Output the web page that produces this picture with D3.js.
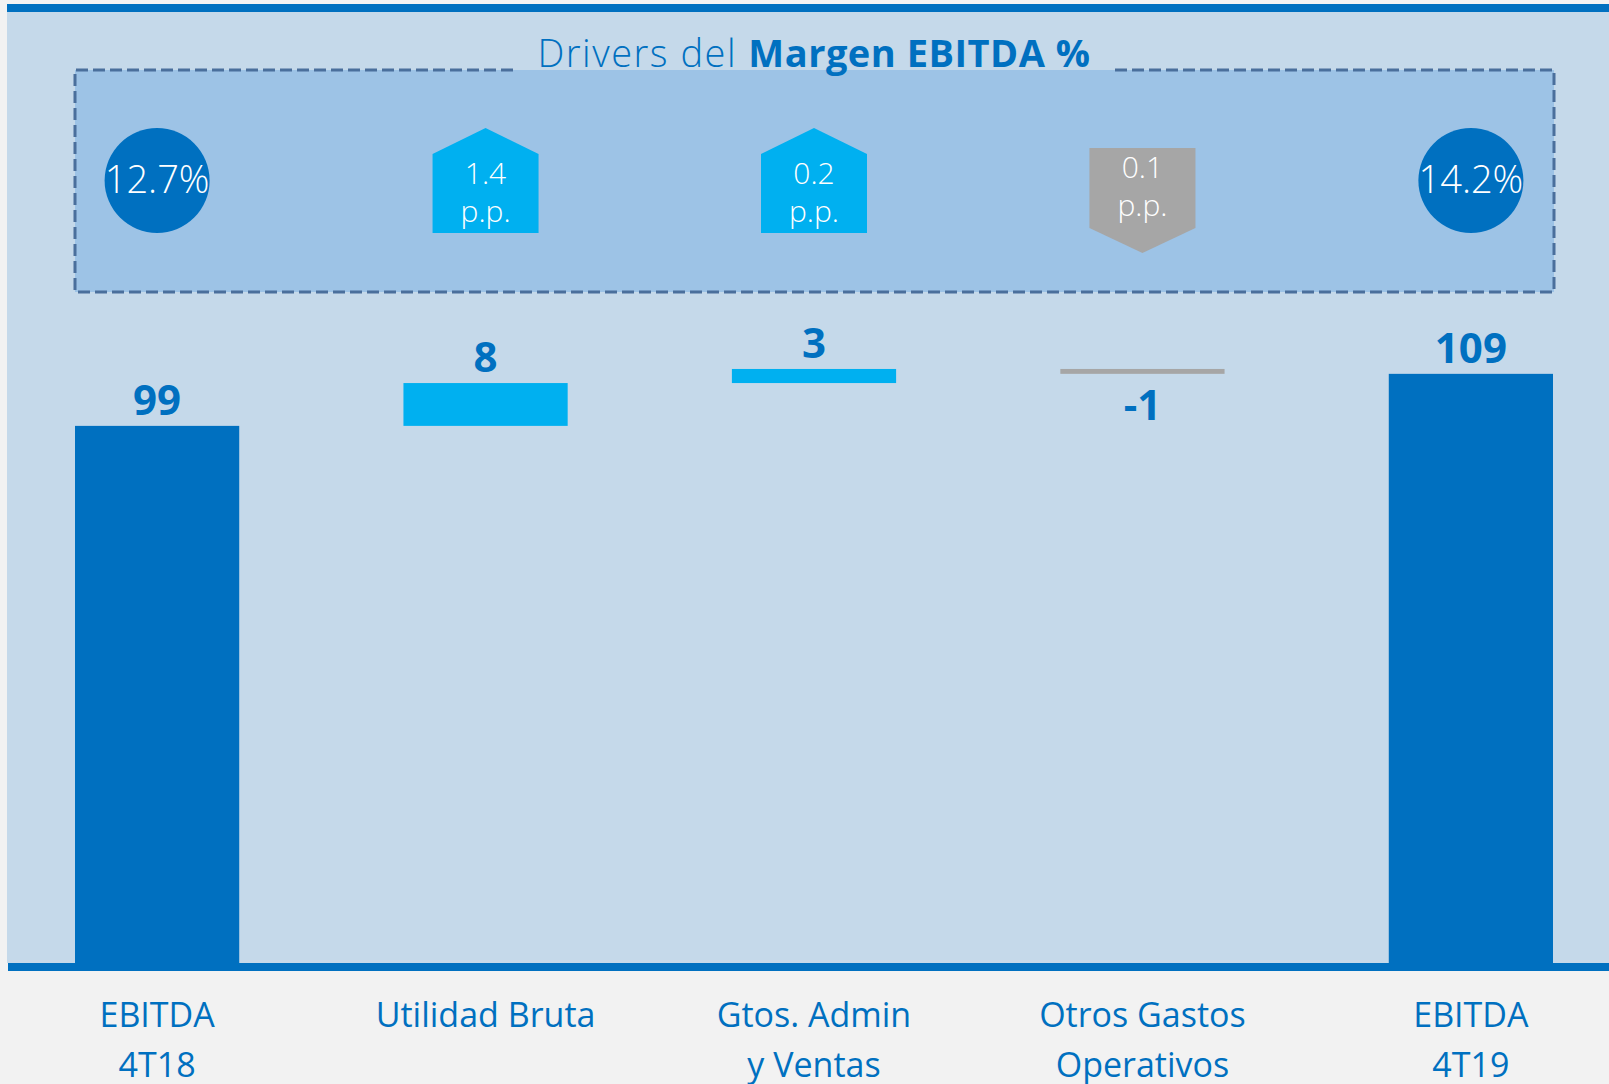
<!DOCTYPE html>
<html>
<head>
<meta charset="utf-8">
<script src="https://cdn.jsdelivr.net/npm/d3@7"></script>
<style>
  body { margin: 0; background: #f2f2f2; }
  text { font-family: "Open Sans", sans-serif; }
</style>
</head>
<body>
<div id="chart"></div>
<script>
// data
var categories = [["EBITDA", "4T18"], ["Utilidad Bruta"], ["Gtos. Admin", "y Ventas"], ["Otros Gastos", "Operativos"], ["EBITDA", "4T19"]];
var barKinds = ["total", "delta", "delta", "delta", "total"];
var barValues = [99.1, 7.9, 2.6, -0.9, 108.7];
var marginValues = [12.7, 1.4, 0.2, -0.1, 14.2];
var marginUnits = ["%", "p.p.", "p.p.", "p.p.", "%"];

function init()
{
    var w = 1609;
    var h = 1084;
    var baseY = 963;
    var fmt = d3.formatLocale({decimal: ".", thousands: ",", grouping: [3], currency: ["", ""], minus: "-"});

    var svg = d3.select("#chart")
                .append("svg")
                .attr("width", w)
                .attr("height", h);

    var keys = categories.map(function(d, i){ return "c" + i; });

    var xScale = d3.scaleBand()
                .domain(keys)
                .range([75, 1553])
                .paddingInner(0.5)
                .paddingOuter(0);

    var yScale = d3.scaleLinear()
                .domain([0, 100])
                .range([baseY, 421]);

    // waterfall start / end for every bar
    var running = 0;
    var bars = barValues.map(function(v, i){
        var b = {key: keys[i], kind: barKinds[i], value: v};
        if (barKinds[i] === "total") {
            b.y0 = 0; b.y1 = v; running = v;
        } else {
            b.y0 = running; b.y1 = running + v; running = running + v;
        }
        return b;
    });

    // panel + top rule
    svg.append("rect")
        .attr("x", 7).attr("y", 12)
        .attr("width", w - 7).attr("height", baseY - 12)
        .attr("fill", "#c5d9ea");
    svg.append("rect")
        .attr("x", 7).attr("y", 4)
        .attr("width", w - 7).attr("height", 8)
        .attr("fill", "#0070c0");

    // dashed drivers box
    var bx0 = 75, bx1 = 1554, by0 = 70, by1 = 292;
    svg.append("rect")
        .attr("x", bx0).attr("y", by0)
        .attr("width", bx1 - bx0).attr("height", by1 - by0)
        .attr("fill", "#9dc3e6");
    svg.append("path")
        .attr("d", "M513," + by0 + "H" + bx0 + "V" + by1 + "H" + bx1 + "V" + by0 + "H1110")
        .attr("fill", "none")
        .attr("stroke", "#4a6f9c")
        .attr("stroke-width", 3)
        .attr("stroke-dasharray", "12,5");

    var title = svg.append("text")
        .attr("x", 814)
        .attr("y", 67)
        .attr("text-anchor", "middle")
        .attr("fill", "#0070c0")
        .style("font-size", "38px");
    title.append("tspan").text("Drivers del ")
        .style("font-weight", 300)
        .style("letter-spacing", "1.5px");
    title.append("tspan").text("Margen EBITDA %")
        .style("font-weight", 700)
        .style("letter-spacing", "0.5px");

    // margin markers
    var markers = svg.selectAll("g.marker")
        .data(marginValues)
        .enter()
        .append("g")
        .attr("class", "marker")
        .attr("transform", function(d, i){
            return "translate(" + (xScale(keys[i]) + xScale.bandwidth() / 2) + ",0)";
        });

    markers.each(function(d, i){
        var g = d3.select(this);
        if (marginUnits[i] === "%") {
            g.append("circle")
                .attr("cy", 180.5).attr("r", 52.5)
                .attr("fill", "#0070c0");
            g.append("text")
                .attr("y", 193)
                .attr("text-anchor", "middle")
                .attr("fill", "white")
                .style("font-size", "38px")
                .style("font-weight", 300)
                .text(fmt.format(".1f")(d) + "%");
        } else if (d >= 0) {
            g.append("path")
                .attr("d", "M0,128L53,154V233H-53V154Z")
                .attr("fill", "#00b0f0");
            g.append("text").attr("y", 184)
                .attr("text-anchor", "middle").attr("fill", "white")
                .style("font-size", "30px").style("font-weight", 300)
                .text(fmt.format(".1f")(d));
            g.append("text").attr("y", 222)
                .attr("text-anchor", "middle").attr("fill", "white")
                .style("font-size", "30px").style("font-weight", 300)
                .text(marginUnits[i]);
        } else {
            g.append("path")
                .attr("d", "M-53,148H53V228L0,253L-53,228Z")
                .attr("fill", "#a6a6a6");
            g.append("text").attr("y", 178)
                .attr("text-anchor", "middle").attr("fill", "white")
                .style("font-size", "30px").style("font-weight", 300)
                .text(fmt.format(".1f")(Math.abs(d)));
            g.append("text").attr("y", 216)
                .attr("text-anchor", "middle").attr("fill", "white")
                .style("font-size", "30px").style("font-weight", 300)
                .text(marginUnits[i]);
        }
    });

    // bars
    svg.selectAll("rect.bar")
        .data(bars)
        .enter()
        .append("rect")
        .attr("class", "bar")
        .attr("x", function(d){ return xScale(d.key); })
        .attr("y", function(d){ return yScale(Math.max(d.y0, d.y1)); })
        .attr("width", xScale.bandwidth())
        .attr("height", function(d){ return Math.abs(yScale(d.y0) - yScale(d.y1)); })
        .attr("fill", function(d){
            if (d.kind === "total") return "#0070c0";
            return d.value >= 0 ? "#00b0f0" : "#a6a6a6";
        });

    svg.selectAll("text.val")
        .data(bars)
        .enter()
        .append("text")
        .attr("class", "val")
        .attr("x", function(d){ return xScale(d.key) + xScale.bandwidth() / 2; })
        .attr("y", function(d){
            if (d.value < 0) return yScale(d.y1) + 46;
            return yScale(d.y1) - 11;
        })
        .attr("text-anchor", "middle")
        .attr("fill", "#0070c0")
        .style("font-size", "42px")
        .style("font-weight", 700)
        .text(function(d){ return fmt.format(".0f")(d.value); });

    // base rule
    svg.append("rect")
        .attr("x", 8).attr("y", baseY)
        .attr("width", w - 8).attr("height", 8)
        .attr("fill", "#0070c0");

    // category labels
    var labels = svg.selectAll("text.cat")
        .data(categories)
        .enter()
        .append("text")
        .attr("class", "cat")
        .attr("text-anchor", "middle")
        .attr("fill", "#0070c0")
        .style("font-size", "34px");
    labels.selectAll("tspan")
        .data(function(d, i){
            return d.map(function(line){ return {line: line, i: i}; });
        })
        .enter()
        .append("tspan")
        .attr("x", function(d){ return xScale(keys[d.i]) + xScale.bandwidth() / 2; })
        .attr("y", function(d, j){ return 1027 + j * 50; })
        .text(function(d){ return d.line; });
}
window.onload = init;
</script>
</body>
</html>
